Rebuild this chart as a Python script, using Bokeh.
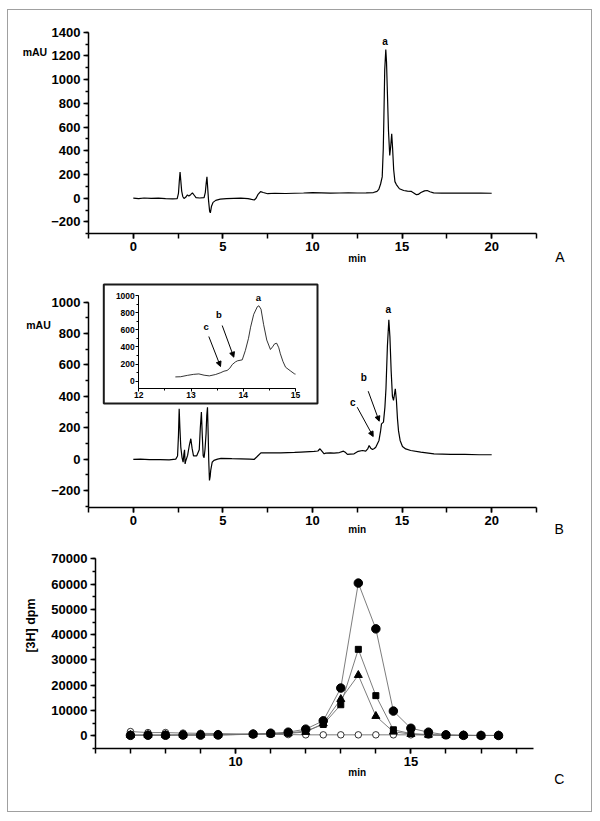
import math
from bokeh.plotting import figure
from bokeh.models import (Range1d, LinearAxis, SingleIntervalTicker, Label,
                          Arrow, NormalHead, BoxAnnotation)
from bokeh.layouts import column
from bokeh.embed import file_html
from bokeh.resources import INLINE

FONT = "Liberation Sans"

# ---------------- data ----------------
# Panel A chromatogram (min, mAU)
a_time = [0.0, 0.3, 0.6, 1.0, 1.4, 1.8, 2.2, 2.45, 2.52, 2.57, 2.61, 2.65, 2.7, 2.76, 2.83,
          2.92, 3.02, 3.1, 3.2, 3.3, 3.4, 3.5, 3.7, 3.95, 4.02, 4.07, 4.11, 4.15, 4.2, 4.26,
          4.3, 4.36, 4.45, 4.6, 4.85, 5.2, 5.6, 6.0, 6.4, 6.6, 6.75, 6.85, 6.95, 7.1, 7.25,
          7.5, 7.9, 8.5, 9.0, 9.5, 10.0, 10.5, 11.0, 11.5, 12.0, 12.5, 13.0, 13.4, 13.6,
          13.7, 13.8, 13.89, 13.95, 13.98, 14.03, 14.09, 14.13, 14.17, 14.24, 14.31, 14.36,
          14.42, 14.47, 14.53, 14.6, 14.68, 14.85, 15.09, 15.3, 15.52, 15.65, 15.8, 15.9,
          16.05, 16.25, 16.4, 16.55, 16.76, 17.2, 18.0, 18.7, 19.4, 20.0]
a_mau = [0, -3, 2, -2, 0, -4, -6, -3, 40, 150, 220, 150, 60, 15, -2,
         8, 28, 18, 30, 45, 25, 5, 2, 5, 50, 130, 180, 90, -20, -110,
         -123, -70, -35, -18, -8, -4, -2, 0, -3, -10, -15, 0, 30, 56, 48,
         38, 42, 40, 42, 44, 47, 45, 43, 44, 45, 44, 45, 48, 58,
         75, 120, 180, 420, 650, 1080, 1254, 1150, 940, 570, 360, 430,
         544, 420, 240, 140, 115, 80, 65, 60, 57, 45, 30, 32,
         48, 62, 65, 55, 45, 43, 44, 43, 44, 42]

# Panel B chromatogram (min, mAU)
b_time = [0.0, 0.4, 0.9, 1.5, 2.0, 2.37, 2.47, 2.52, 2.56, 2.6, 2.65, 2.72, 2.78, 2.82, 2.86,
          2.89, 2.93, 3.03, 3.13, 3.21, 3.28, 3.36, 3.54, 3.68, 3.74, 3.8, 3.85, 3.9, 3.95,
          4.0, 4.06, 4.1, 4.14, 4.18, 4.21, 4.25, 4.29, 4.32, 4.4, 4.5, 4.7, 4.9, 5.5, 6.0,
          6.5, 6.74, 6.9, 7.12, 7.5, 8.23, 9.0, 9.35, 10.09, 10.3, 10.42, 10.5, 10.65, 10.74,
          11.0, 11.2, 11.5, 11.73, 11.85, 11.95, 12.1, 12.32, 12.55, 12.79, 12.97, 13.08,
          13.16, 13.25, 13.35, 13.45, 13.53, 13.63, 13.71, 13.8, 13.85, 13.96, 14.04, 14.1,
          14.18, 14.26, 14.32, 14.39, 14.46, 14.52, 14.57, 14.62, 14.68, 14.74, 14.8, 14.89,
          15.02, 15.2, 15.48, 16.04, 16.78, 17.71, 18.5, 19.3, 20.0]
b_mau = [-2, 0, -3, -3, -5, 0, 20, 150, 321, 200, 77, 10, -19, 30, 60,
         -30, -10, 24, 90, 130, 70, 21, 21, 60, 200, 300, 150, 21, 9,
         60, 162, 280, 331, 150, -8, -136, -110, -72, -20, -8, 0, 5, 3, 2,
         0, -2, 15, 40, 40, 40, 43, 45, 49, 52, 66, 55, 34, 38,
         40, 38, 42, 51, 42, 30, 32, 34, 50, 55, 51, 65,
         87, 70, 62, 68, 76, 100, 119, 180, 225, 236, 330, 450,
         720, 888, 780, 560, 400, 374, 410, 448, 380, 260, 180, 119,
         81, 65, 55, 45, 34, 30, 30, 28, 28]

# Inset of panel B (min, mAU)
inset_time = [12.7, 12.8, 12.93, 13.05, 13.15, 13.25, 13.35, 13.47, 13.57, 13.63, 13.69, 13.74,
              13.79, 13.85, 13.89, 13.98, 14.04, 14.1, 14.14, 14.2, 14.27, 14.3, 14.34, 14.39,
              14.45, 14.52, 14.56, 14.6, 14.64, 14.68, 14.71, 14.76, 14.81, 14.91, 14.98, 15.0]
inset_mau = [50, 52, 68, 80, 85, 70, 62, 78, 100, 117, 125, 150,
             195, 225, 238, 249, 358, 500, 630, 780, 870, 880, 840, 660,
             480, 370, 400, 436, 443, 390, 320, 230, 163, 117, 86, 83]

# Panel C radioactivity fractions
c_time = [7.0, 7.5, 8.0, 8.5, 9.0, 9.5, 10.5, 11.0, 11.5, 12.0, 12.5, 13.0, 13.5, 14.0,
          14.5, 15.0, 15.5, 16.0, 16.5, 17.0, 17.5]
c_circle = [200, 250, 250, 300, 300, 350, 700, 1050, 1450, 2650, 5950, 18900, 60400, 42300,
            9800, 3000, 1450, 400, 200, 150, 150]
c_square = [300, 300, 300, 350, 350, 400, 600, 800, 1100, 1900, 4500, 12300, 34200, 15900,
            2400, 900, 500, 250, 200, 150, 150]
c_triangle = [300, 300, 300, 350, 350, 400, 600, 800, 1000, 1500, 4900, 14500, 24000, 7800,
              1600, 700, 400, 250, 200, 150, 150]
c_open = [1700, 1300, 1300, 1100, 1000, 900, 700, 600, 500, 400, 400, 400, 400, 400,
          400, 400, 300, 200, 150, 150, 150]

# axis extents
a_x_lim, a_y_lim = (-2.5, 22.5), (-300, 1400)
b_x_lim, b_y_lim = (-2.5, 22.5), (-310, 1000)
inset_x_lim, inset_y_lim = (12, 15), (-80, 1000)
c_x_lim, c_y_lim = (6.0, 18.5), (-5000, 70000)

# ---------------- layout (page pixels) ----------------
OX = 8          # left of column interior
W = 583


def range_from(v0, p0, v1, p1, lo_px, hi_px):
    k = (p1 - p0) / (v1 - v0)
    a = v0 + (lo_px - p0) / k
    b = v0 + (hi_px - p0) / k
    return Range1d(min(a, b), max(a, b))


class PxMap:
    def __init__(self, xr, yr, fl, fr, ft, fb):
        self.xr, self.yr, self.fl, self.fr, self.ft, self.fb = xr, yr, fl, fr, ft, fb

    def x(self, px):
        return self.xr.start + (px - self.fl) * (self.xr.end - self.xr.start) / (self.fr - self.fl)

    def y(self, py):
        return self.yr.end - (py - self.ft) * (self.yr.end - self.yr.start) / (self.fb - self.ft)


def make_fig(height, xr, yr):
    p = figure(width=W, height=height, x_range=xr, y_range=yr,
               output_backend="svg", toolbar_location=None,
               x_axis_location=None, y_axis_location=None,
               min_border_left=0, min_border_right=0, min_border_top=0, min_border_bottom=0)
    p.xgrid.visible = False
    p.ygrid.visible = False
    p.outline_line_color = None
    p.background_fill_color = "white"
    p.border_fill_color = "white"
    return p


def style_axis(ax, size="13px", major=5, minor=3, width=1.5, standoff=3):
    ax.axis_line_width = width
    ax.axis_line_color = "black"
    ax.major_tick_line_color = "black"
    ax.minor_tick_line_color = "black"
    ax.major_tick_line_width = width
    ax.minor_tick_line_width = width
    ax.major_tick_in = 0
    ax.major_tick_out = major
    ax.minor_tick_in = 0
    ax.minor_tick_out = minor
    ax.major_label_text_font = FONT
    ax.major_label_text_font_style = "bold"
    ax.major_label_text_font_size = size
    ax.major_label_text_color = "black"
    ax.major_label_standoff = standoff


def add_axes(p, xlim, ylim, xtick, ytick, xname="default", yname="default", **kw):
    xa = LinearAxis(x_range_name=xname, y_range_name=yname, fixed_location=ylim[0],
                    bounds=xlim, ticker=xtick)
    ya = LinearAxis(x_range_name=xname, y_range_name=yname, fixed_location=xlim[0],
                    bounds=ylim, ticker=ytick)
    p.add_layout(xa, "below")
    p.add_layout(ya, "left")
    return xa, ya


def add_label(p, m, px, py, text, size="10px", bold=True, angle=0.0):
    p.add_layout(Label(x=m.x(px), y=m.y(py), text=text, text_font=FONT,
                       text_font_size=size, text_font_style="bold" if bold else "normal",
                       text_color="black", text_align="center", text_baseline="middle",
                       angle=angle))


def add_arrow(p, m, p0, p1):
    p.add_layout(Arrow(end=NormalHead(size=5, fill_color="black", line_color="black", line_width=1),
                       x_start=m.x(p0[0]), y_start=m.y(p0[1]),
                       x_end=m.x(p1[0]), y_end=m.y(p1[1]),
                       line_color="black", line_width=1))


# ---------------- Panel A ----------------
A_TOP, A_H = 10, 260
xrA = range_from(a_x_lim[0], 88, a_x_lim[1], 536, OX, OX + W)
yrA = range_from(a_y_lim[1], 31.7, a_y_lim[0], 233.3, A_TOP, A_TOP + A_H)
pA = make_fig(A_H, xrA, yrA)
mA = PxMap(xrA, yrA, OX, OX + W, A_TOP, A_TOP + A_H)
pA.line(a_time, a_mau, line_color="black", line_width=1.2)
xa, ya = add_axes(pA, a_x_lim, a_y_lim,
                  SingleIntervalTicker(interval=5, num_minor_ticks=2),
                  SingleIntervalTicker(interval=200, num_minor_ticks=2))
style_axis(xa, minor=5)
style_axis(ya)
add_label(pA, mA, 34.4, 51.7, "mAU", size="10.5px")
add_label(pA, mA, 384.6, 41.3, "a", size="10px")
add_label(pA, mA, 356.7, 258.3, "min", size="10px")
add_label(pA, mA, 559.5, 256.7, "A", size="14px", bold=False)

# ---------------- Panel B ----------------
B_TOP, B_H = 270, 270
xrB = range_from(b_x_lim[0], 88, b_x_lim[1], 536, OX, OX + W)
yrB = range_from(b_y_lim[1], 301.7, b_y_lim[0], 507.3, B_TOP, B_TOP + B_H)
pB = make_fig(B_H, xrB, yrB)
mB = PxMap(xrB, yrB, OX, OX + W, B_TOP, B_TOP + B_H)

# inset scales drawn inside B's canvas
ixr = range_from(inset_x_lim[0], 138.3, inset_x_lim[1], 295.0, OX, OX + W)
iyr = range_from(inset_y_lim[1], 295.0, 0, 380.7, B_TOP, B_TOP + B_H)
pB.extra_x_ranges = {"ix": ixr}
pB.extra_y_ranges = {"iy": iyr}

pB.add_layout(BoxAnnotation(left=mB.x(103.3), right=mB.x(317), top=mB.y(284), bottom=mB.y(403),
                            fill_color="white", fill_alpha=1.0, line_color="#1a1a1a",
                            line_alpha=1.0, line_width=2, level="underlay"))

pB.line(b_time, b_mau, line_color="black", line_width=1.2)
pB.line(inset_time, inset_mau, line_color="black", line_width=0.8,
        x_range_name="ix", y_range_name="iy")

xb, yb = add_axes(pB, b_x_lim, b_y_lim,
                  SingleIntervalTicker(interval=5, num_minor_ticks=2),
                  SingleIntervalTicker(interval=200, num_minor_ticks=2))
style_axis(xb, minor=5)
style_axis(yb)

ixa, iya = add_axes(pB, inset_x_lim, inset_y_lim,
                    SingleIntervalTicker(interval=1, num_minor_ticks=2),
                    SingleIntervalTicker(interval=200, num_minor_ticks=2),
                    xname="ix", yname="iy")
style_axis(ixa, size="8.5px", major=3, minor=2, width=1, standoff=1)
style_axis(iya, size="8.5px", major=3, minor=2, width=1, standoff=1)

add_label(pB, mB, 38, 324.3, "mAU", size="10.5px")
add_label(pB, mB, 387.7, 309.3, "a", size="10px")
add_label(pB, mB, 363.3, 377.3, "b", size="10px")
add_label(pB, mB, 352.3, 401.7, "c", size="10px")
add_arrow(pB, mB, (367.7, 390.7), (378.7, 420.7))
add_arrow(pB, mB, (356.7, 406.7), (372.7, 436.0))
add_label(pB, mB, 258.0, 296.7, "a", size="9.5px")
add_label(pB, mB, 218.3, 314.3, "b", size="9.5px")
add_label(pB, mB, 205.7, 325.7, "c", size="9.5px")
add_arrow(pB, mB, (221.7, 325.0), (233.3, 356.7))
add_arrow(pB, mB, (208.3, 336.0), (220.0, 366.0))
add_label(pB, mB, 356.7, 529.0, "min", size="10px")
add_label(pB, mB, 558.7, 528.7, "B", size="14px", bold=False)

# ---------------- Panel C ----------------
C_TOP, C_H = 540, 271
xrC = range_from(c_x_lim[0], 94.9, c_x_lim[1], 533.1, OX, OX + W)
yrC = range_from(c_y_lim[1], 558.3, c_y_lim[0], 748.0, C_TOP, C_TOP + C_H)
pC = make_fig(C_H, xrC, yrC)
mC = PxMap(xrC, yrC, OX, OX + W, C_TOP, C_TOP + C_H)

LINE = "#6e6e6e"
for ys in (c_open, c_triangle, c_square, c_circle):
    pC.line(c_time, ys, line_color=LINE, line_width=0.9)
pC.scatter(c_time, c_open, marker="circle", size=6.5, fill_color="white", line_color="black", line_width=0.8)
pC.scatter(c_time, c_triangle, marker="triangle", size=8, fill_color="black", line_color="black")
pC.scatter(c_time, c_square, marker="square", size=6, fill_color="black", line_color="black")
pC.scatter(c_time, c_circle, marker="circle", size=8.5, fill_color="black", line_color="black")

xc, yc = add_axes(pC, c_x_lim, c_y_lim,
                  SingleIntervalTicker(interval=5, num_minor_ticks=5),
                  SingleIntervalTicker(interval=10000, num_minor_ticks=2))
style_axis(xc, minor=5)
style_axis(yc)
add_label(pC, mC, 30.6, 625.0, "[3H] dpm", size="12.5px", angle=math.pi / 2)
add_label(pC, mC, 356.7, 772.3, "min", size="10px")
add_label(pC, mC, 558.7, 778.3, "C", size="14px", bold=False)

layout = column(pA, pB, pC, styles={"border": "1px solid #a0a0a0",
                                    "margin-left": "7px", "margin-top": "9px"})

open("out.html", "w").write(file_html(layout, INLINE))
